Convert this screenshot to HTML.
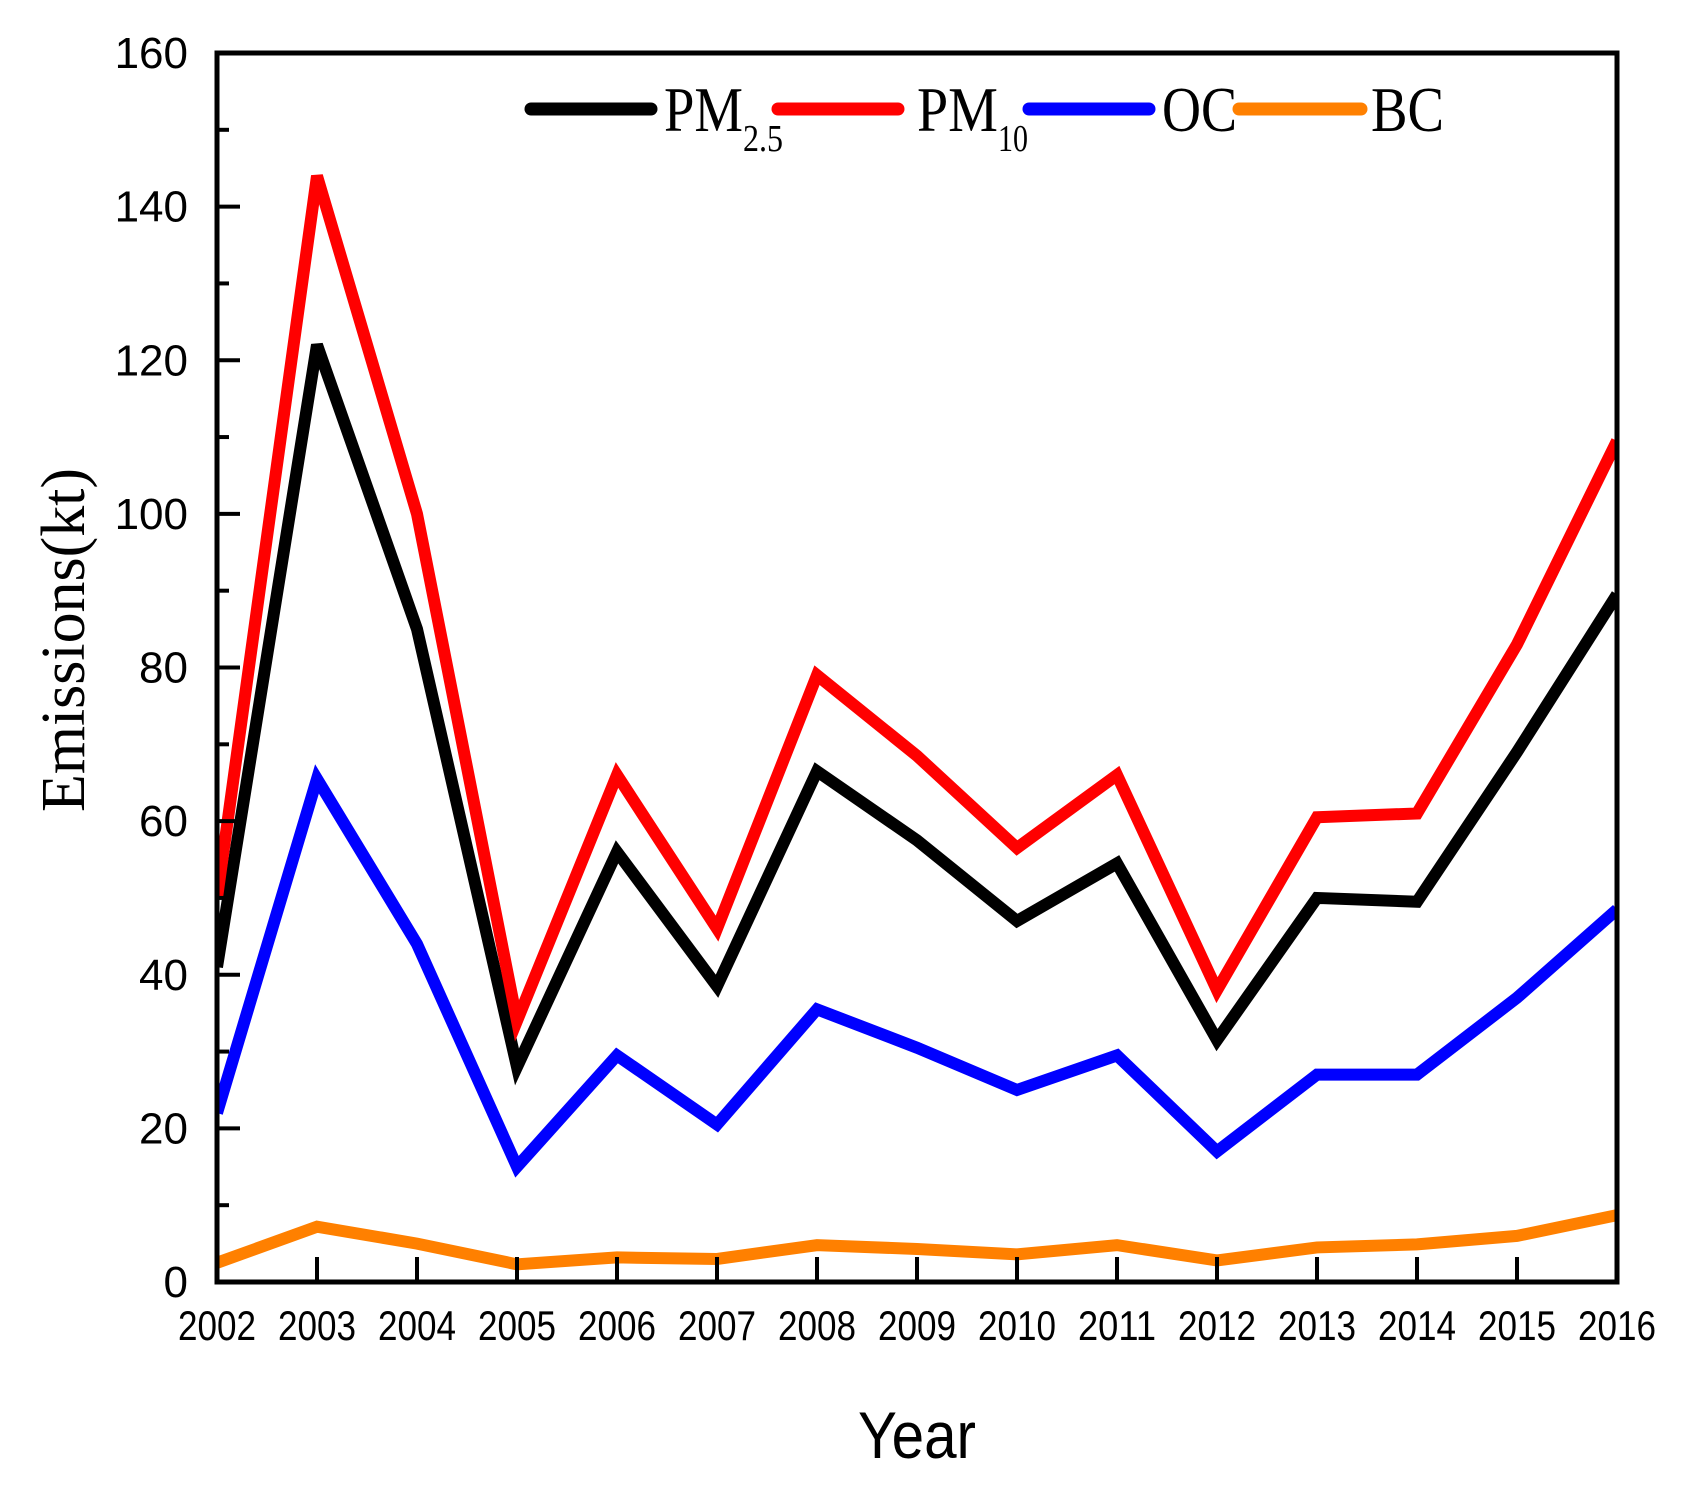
<!DOCTYPE html>
<html><head><meta charset="utf-8"><style>
html,body{margin:0;padding:0;background:#fff;}
svg{display:block;}
</style></head><body>
<svg id="chart" width="1684" height="1495" viewBox="0 0 1684 1495" xmlns="http://www.w3.org/2000/svg">
<g id="plot"></g>
</svg>
<script>
const years = [2002,2003,2004,2005,2006,2007,2008,2009,2010,2011,2012,2013,2014,2015,2016];
const pm25 = [41,122,85,28,56,38.5,66.5,57.5,47,54.5,31.5,50,49.5,69,89.5];
const pm10 = [50,144,100,34,66,46,79,68.5,56.5,66,38,60.5,61,83,109.5];
const oc = [22,65.5,44,15,29.5,20.5,35.5,30.5,25,29.5,17,27,27,37,48.5];
const bc = [2.5,7.2,5,2.3,3.2,3,4.8,4.3,3.6,4.8,2.8,4.5,4.9,6,8.7];
const yTicks = [0,20,40,60,80,100,120,140,160];

const X0=217, X1=1617, Y0=1282, Y1=53;
const NS='http://www.w3.org/2000/svg';
const svg=document.getElementById('chart');
function xs(i){return X0+(X1-X0)*i/(years.length-1);}
function ys(v){return Y0-(Y0-Y1)*v/160;}
function mk(tag,attrs,parent){const e=document.createElementNS(NS,tag);for(const k in attrs)e.setAttribute(k,attrs[k]);(parent||svg).appendChild(e);return e;}

const defs=mk('defs',{});
const cp=mk('clipPath',{id:'clip'},defs);
mk('rect',{x:X0,y:Y1,width:X1-X0,height:Y0-Y1},cp);

const series=[['pm25',pm25,'#000000'],['pm10',pm10,'#ff0000'],['oc',oc,'#0000ff'],['bc',bc,'#ff8000']];
const lg=mk('g',{'clip-path':'url(#clip)'});
series.forEach(s=>{
  const pts=s[1].map((v,i)=>xs(i)+','+ys(v)).join(' ');
  const pl=mk('polyline',{points:pts,fill:'none',stroke:s[2],'stroke-width':12,'stroke-linejoin':'miter','stroke-miterlimit':4},lg);
  
  
});

for(let v=0;v<=160;v+=10){
  const major=v%20===0;
  const t=mk('line',{x1:X0,x2:X0+(major?23:12),y1:ys(v),y2:ys(v),stroke:'#000','stroke-width':4});
  
  
}
yTicks.forEach(v=>{
  const t=mk('text',{x:188,y:ys(v)+15,'text-anchor':'end','font-family':'Liberation Sans, Arial, sans-serif','font-size':44,fill:'#000'});
  t.textContent=v;
  
  
});
years.forEach((yr,i)=>{
  const t=mk('line',{x1:xs(i),x2:xs(i),y1:Y0,y2:Y0-25,stroke:'#000','stroke-width':4});
  
  
  const l=mk('text',{x:xs(i),y:1340,'text-anchor':'middle','font-family':'Liberation Sans, Arial, sans-serif','font-size':42,fill:'#000',textLength:78,lengthAdjust:'spacingAndGlyphs'});
  l.textContent=yr;
  
  
});

const fr=mk('path',{d:`M${X0} ${Y1} H${X1} V${Y0} H${X0} Z`,fill:'none',stroke:'#000','stroke-width':5});



const yt=mk('text',{x:0,y:0,transform:'translate(84,640) rotate(-90)','text-anchor':'middle','font-family':'Liberation Serif, Times New Roman, serif','font-size':62,fill:'#000',textLength:344,lengthAdjust:'spacingAndGlyphs'});
yt.textContent='Emissions(kt)';


const xt=mk('text',{x:917,y:1458,'text-anchor':'middle','font-family':'Liberation Sans, Arial, sans-serif','font-size':66,fill:'#000',textLength:118,lengthAdjust:'spacingAndGlyphs'});
xt.textContent='Year';



const legend=mk('g',{});


// [label, sub, color, lineStart, lineEnd, textX, mainWidth, subWidth]
const leg=[['PM','2.5','#000000',531,651,664,79,40],['PM','10','#ff0000',778,898,917,81,30],['OC','','#0000ff',1029,1149,1162,75,0],['BC','','#ff8000',1239,1361,1371,73,0]];
leg.forEach(e=>{
  const g=mk('g',{},legend);
  
  
  mk('line',{x1:e[3],x2:e[4],y1:109,y2:109,stroke:e[2],'stroke-width':13,'stroke-linecap':'round'},g);
  const t=mk('text',{x:e[5],y:131,'font-family':'Liberation Serif, Times New Roman, serif','font-size':64,fill:'#000',textLength:e[6],lengthAdjust:'spacingAndGlyphs'},g);
  t.textContent=e[0];
  if(e[1]){
    const s=mk('text',{x:e[5]+e[6],y:151,'font-family':'Liberation Serif, Times New Roman, serif','font-size':38,fill:'#000',textLength:e[7],lengthAdjust:'spacingAndGlyphs'},g);
    s.textContent=e[1];
  }
});
</script>
</body></html>
